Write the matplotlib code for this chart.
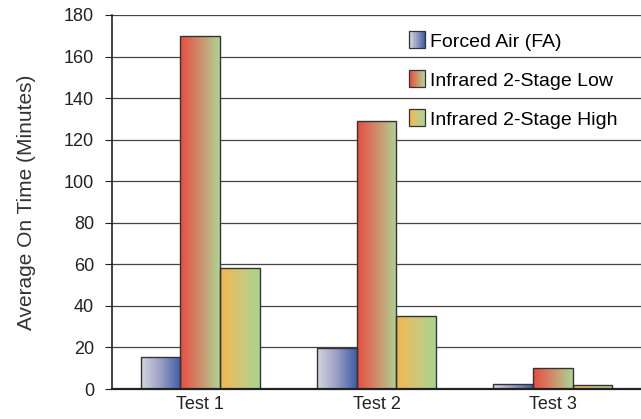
import numpy as np
import matplotlib.pyplot as plt
from matplotlib.colors import LinearSegmentedColormap
from matplotlib.patches import Rectangle
from matplotlib.legend_handler import HandlerBase

plt.rcParams['font.family'] = ['Liberation Sans', 'DejaVu Sans']

# Data
tests = ["Test 1", "Test 2", "Test 3"]
series = ["Forced Air (FA)", "Infrared 2-Stage Low", "Infrared 2-Stage High"]
forced_air = [15.5, 19.5, 2.2]
ir_low = [170, 129, 10]
ir_high = [58, 35, 2]
values = [forced_air, ir_low, ir_high]

# gradient colours, left -> right
grads = [
    ["#d6d6dc", "#9a9ec4", "#3d5ea6"],
    ["#e84c40", "#cf8e6c", "#aed494"],
    ["#f2b84e", "#d2c678", "#a6d690"],
]
cmaps = [LinearSegmentedColormap.from_list("g%d" % i, g) for i, g in enumerate(grads)]

fig = plt.figure(figsize=(6.41, 4.19), dpi=100)
ax = fig.add_axes([112 / 641, 30 / 419, 529 / 641, 374 / 419])

x = np.arange(len(tests))
width = 0.225
ramp = np.linspace(0, 1, 256).reshape(1, -1)

for k, (vals, cmap) in enumerate(zip(values, cmaps)):
    offs = (k - 1) * width
    bars = ax.bar(x + offs, vals, width, facecolor="none", edgecolor="#333333",
                  linewidth=1.0, zorder=4)
    for b in bars:
        x0, w, h = b.get_x(), b.get_width(), b.get_height()
        im = ax.imshow(ramp, cmap=cmap, aspect="auto", extent=[x0, x0 + w, 0, h],
                       zorder=3, interpolation="bilinear")
        im.set_clip_path(b)

ax.set_xlim(-0.5, 2.5)
ax.set_ylim(0, 180)
ax.set_yticks(np.arange(0, 181, 20))
ax.set_xticks(x)
ax.set_xticklabels(tests)
ax.tick_params(axis="x", length=0, labelsize=13, pad=5, colors="#222222")
ax.tick_params(axis="y", length=5, width=0.8, labelsize=13, pad=8, colors="#222222")
ax.yaxis.grid(True, color="#444444", linewidth=0.9)
ax.set_axisbelow(True)
for s in ["top", "right"]:
    ax.spines[s].set_visible(False)
ax.spines["left"].set_color("#222222")
ax.spines["left"].set_linewidth(1.2)
ax.spines["bottom"].set_color("#222222")
ax.spines["bottom"].set_linewidth(1.6)
ax.spines["bottom"].set_zorder(5)
ax.set_ylabel("Average On Time (Minutes)", fontsize=15, color="#333333", labelpad=20)


class GradHandler(HandlerBase):
    def __init__(self, cmap):
        super().__init__()
        self.cmap = cmap

    def create_artists(self, legend, orig, xd, yd, w, h, fontsize, trans):
        arts = []
        n = 12
        sz = w
        y0 = yd + h / 2 - sz / 2
        for i in range(n):
            arts.append(Rectangle((xd + i * sz / n, y0), sz / n + 0.1, sz,
                                  facecolor=self.cmap(i / (n - 1)), edgecolor="none",
                                  transform=trans))
        arts.append(Rectangle((xd, y0), sz, sz, facecolor="none",
                              edgecolor="#333333", linewidth=0.9, transform=trans))
        return arts


proxies = [Rectangle((0, 0), 1, 1) for _ in series]
ax.legend(proxies, series, handler_map={p: GradHandler(c) for p, c in zip(proxies, cmaps)},
          loc="upper left", bbox_to_anchor=(0.561, 0.952), frameon=False, fontsize=14,
          labelspacing=1.1, handlelength=0.85, handletextpad=0.25,
          borderpad=0, borderaxespad=0)

fig.savefig("out.png", dpi=100)
